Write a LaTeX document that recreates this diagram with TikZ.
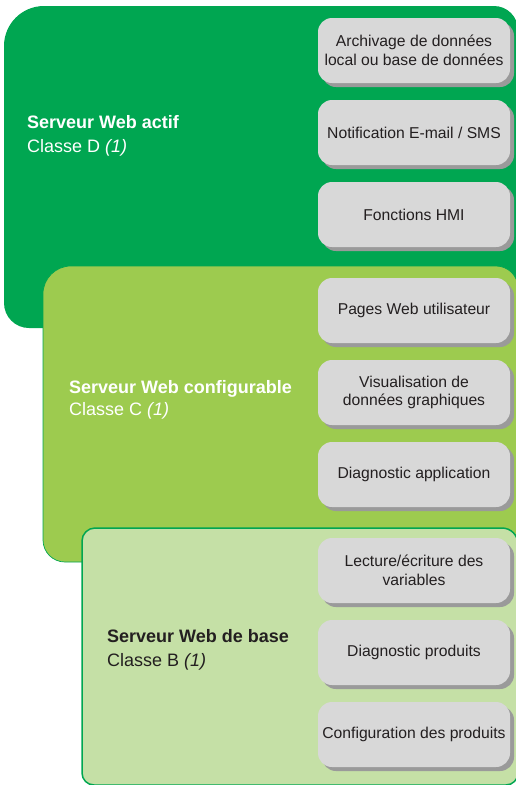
\documentclass[tikz,border=0pt]{standalone}
\usepackage{fontspec}
\setmainfont{Liberation Sans}
\usetikzlibrary{shadows}
\definecolor{dgreen}{HTML}{00A651}
\definecolor{cgreen}{HTML}{9DCB4F}
\definecolor{bgreen}{HTML}{C5E0A6}
\definecolor{boxgray}{HTML}{D8D8D8}
\definecolor{shadowgray}{HTML}{9A9A9A}
\definecolor{txt}{HTML}{231F20}
\tikzset{
  featbox/.style={rectangle, rounded corners=14pt, fill=boxgray, minimum width=192pt,
    minimum height=65pt, inner sep=2pt, align=center, text=txt,
    font=\fontsize{15.7}{18.5}\selectfont,
    general shadow={fill=shadowgray, shadow xshift=4pt, shadow yshift=-4pt}},
  headtitle/.style={anchor=base west, inner sep=0pt, font=\fontsize{18}{22}\selectfont\bfseries},
  headclass/.style={anchor=base west, inner sep=0pt, font=\fontsize{18}{22}\selectfont},
}
\begin{document}
\begin{tikzpicture}[x=1pt,y=-1pt]
\useasboundingbox (0,0) rectangle (516,785);
\begin{scope}
\clip (0,0) rectangle (516,785);
% Panel D
\fill[dgreen] (4,200) [rounded corners=40] -- (4,6) -- (300,6) [rounded corners=24] -- (518,6) -- (518,200) [rounded corners=25] -- (518,328) -- (200,328) -- (4,328) -- cycle;
% Panel C
\filldraw[fill=cgreen, draw=dgreen, line width=0.7pt] (43,400) [rounded corners=28] -- (43,266) -- (300,266) [rounded corners=22] -- (518,266) -- (518,400) [rounded corners=22] -- (518,562) -- (200,562) -- (43,562) -- cycle;
% Panel B
\filldraw[fill=bgreen, draw=dgreen, line width=1.5pt] (82,650) [rounded corners=13] -- (82,528) -- (300,528) [rounded corners=16] -- (518,528) -- (518,650) [rounded corners=12] -- (518,785) -- (300,785) -- (82,785) -- cycle;
\end{scope}
% Headings
\node[headtitle, text=white] (dtitle) at (27,128) {Serveur Web actif};
\node[headclass, text=white] (dclass) at (27,152) {Classe D \textit{(1)}};
\node[headtitle, text=white] (ctitle) at (69,393) {Serveur Web configurable};
\node[headclass, text=white] (cclass) at (69,415) {Classe C \textit{(1)}};
\node[headtitle, text=txt] (btitle) at (107,642) {Serveur Web de base};
\node[headclass, text=txt] (bclass) at (107,666) {Classe B \textit{(1)}};
% Feature boxes
\node[featbox] (d1) at (414,50.5) {Archivage de données\\local ou base de données};
\node[featbox] (d2) at (414,132.5) {Notification E-mail / SMS};
\node[featbox] (d3) at (414,214.5) {Fonctions HMI};
\node[featbox] (c1) at (414,310.5) {Pages Web utilisateur};
\node[featbox] (c2) at (414,392.5) {Visualisation de\\données graphiques};
\node[featbox] (c3) at (414,474.5) {Diagnostic application};
\node[featbox] (b1) at (414,570.5) {Lecture/écriture des\\variables};
\node[featbox] (b2) at (414,652.5) {Diagnostic produits};
\node[featbox] (b3) at (414,734.5) {Configuration des produits};
\end{tikzpicture}
\end{document}
